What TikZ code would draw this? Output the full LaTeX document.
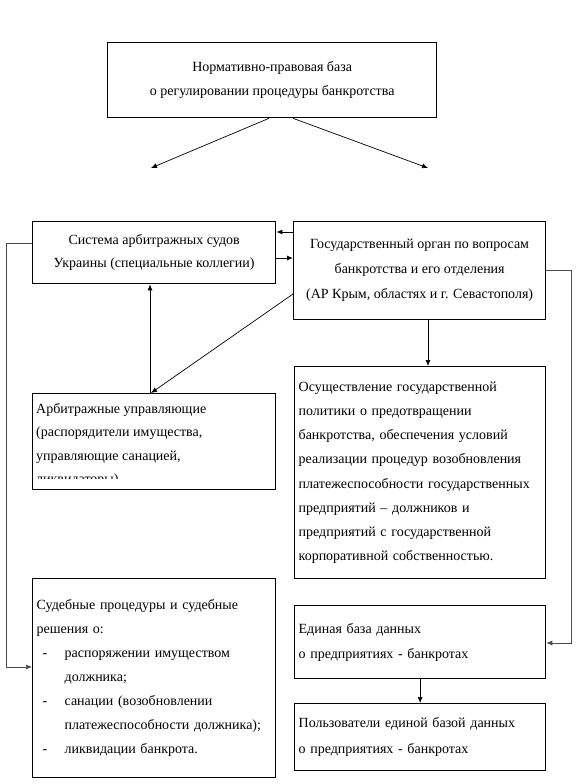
\documentclass[tikz,border=0pt]{standalone}
\usepackage{fontspec}
\setmainfont{Liberation Serif}
\usetikzlibrary{calc,arrows.meta}

\begin{document}
\begin{tikzpicture}[x=1pt,y=-1pt,
		box/.style={draw, line width=1.3pt, inner sep=4pt, anchor=north west, align=center, font=\fontsize{14}{24}\selectfont},
		lbox/.style={box, align=left, font=\fontsize{14}{24.2}\selectfont},
		link/.style={line width=0.7pt, -{Latex[length=6pt,width=5pt]}},
		loopline/.style={line width=0.7pt, draw=black!70, -{Latex[length=6pt,width=5pt]}}]
		\useasboundingbox (0,0) rectangle (577,784);
		% boxes
		\node[box, minimum width=329pt, minimum height=75pt] (norm) at (107,42) {Нормативно-правовая база\\о регулировании процедуры банкротства};
		\node[box, minimum width=243pt, minimum height=62pt, font=\fontsize{14}{23}\selectfont] (courts) at (32,221) {Система арбитражных судов\\Украины (специальные коллегии)};
		\node[box, minimum width=252pt, minimum height=98pt, font=\fontsize{14}{25}\selectfont] (gov) at (293,221) {Государственный орган по вопросам\\банкротства и его отделения\\(АР Крым, областях и г. Севастополя)};
		\begin{scope}
			\clip (32,393) rectangle (275,478);
			\node[anchor=north west, align=left, inner sep=0pt, font=\fontsize{14}{23.5}\selectfont] (mgrtext) at (36,403) {Арбитражные управляющие\\(распорядители имущества,\\управляющие санацией,\\ликвидаторы)};
		\end{scope}
		\node[box, minimum width=243pt, minimum height=96pt] (mgr) at (32,393) {};
		\node[lbox, text width=243pt, minimum height=212pt] (policy) at (294,366) {Осуществление государственной\\политики о предотвращении\\банкротства, обеспечения условий\\реализации процедур возобновления\\платежеспособности государственных\\предприятий – должников и\\предприятий с государственной\\корпоративной собственностью.};
		\node[lbox, text width=235pt, minimum height=199pt, font=\fontsize{14}{24}\selectfont] (proc) at (32,578) {Судебные процедуры и судебные\\решения о:\\
			\makebox[28pt][l]{\hspace{6pt}-}распоряжении имуществом\\\hspace*{28pt}должника;\\
			\makebox[28pt][l]{\hspace{6pt}-}санации (возобновлении\\\hspace*{28pt}платежеспособности должника);\\
			\makebox[28pt][l]{\hspace{6pt}-}ликвидации банкрота.};
		\node[lbox, text width=243pt, minimum height=73pt, font=\fontsize{14}{25}\selectfont] (base) at (294,605) {Единая база данных\\о предприятиях - банкротах};
		\node[lbox, text width=243pt, minimum height=67pt, font=\fontsize{14}{26}\selectfont] (users) at (294,703) {Пользователи единой базой данных\\о предприятиях - банкротах};
		% free arrow ends under the top box
		\coordinate (leftend) at (151,168);
		\coordinate (rightend) at (428,168);
		\draw[link] ($(norm.south west)+(162,0)$) -- (leftend);
		\draw[link] ($(norm.south west)+(186,0)$) -- (rightend);
		% connectors
		\draw[link, line width=1pt] ($(gov.north west)+(0,11)$) -- ($(courts.north east)+(0,11)$);
		\draw[link, line width=1pt] ($(courts.north east)+(0,37)$) -- ($(gov.north west)+(0,37)$);
		\draw[link] ($(mgr.north west)+(118,0)$) -- ($(courts.south west)+(118,0)$);
		\draw[link] ($(gov.north west)+(0,73)$) -- ($(mgr.north west)+(119,0)$);
		\draw[link] ($(gov.south west)+(135,0)$) -- ($(policy.north west)+(134,0)$);
		\draw[link] (base.south) -- (users.north);
		\draw[loopline] ($(courts.north west)+(0,22)$) -- ++(-26,0) |- ($(proc.north west)+(0,89)$);
		\draw[loopline] ($(gov.north east)+(0,49)$) -- ++(25,0) |- ($(base.north east)+(0,38)$);
	\end{tikzpicture}
\end{document}
